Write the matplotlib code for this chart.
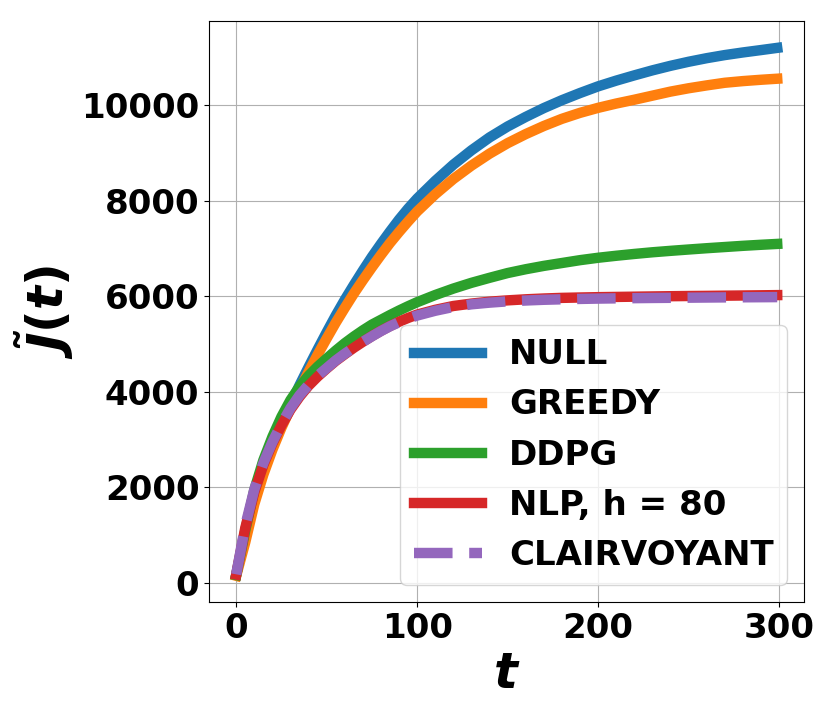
import matplotlib
matplotlib.use("Agg")
import matplotlib.pyplot as plt

# bold text everywhere, bold italic math for the axis labels
plt.rcParams["font.family"] = ["DejaVu Sans"]
plt.rcParams["font.weight"] = "bold"
plt.rcParams["mathtext.fontset"] = "custom"
plt.rcParams["mathtext.it"] = "DejaVu Sans:italic:bold"
plt.rcParams["mathtext.rm"] = "DejaVu Sans:bold"
plt.rcParams["mathtext.bf"] = "DejaVu Sans:bold"

# time steps where the curves were read
t = [0, 5, 10, 15, 20, 25, 30, 35, 40, 45, 50, 55, 60, 65, 70, 75, 80, 85, 90, 95, 100,
     110, 120, 130, 140, 150, 160, 170, 180, 190, 200,
     210, 220, 230, 240, 250, 260, 270, 280, 290, 299]

null_cost = [165, 1000, 1800, 2400, 2900, 3340, 3740, 4140, 4520, 4890, 5250, 5600, 5930,
             6240, 6540, 6830, 7100, 7360, 7610, 7840, 8050,
             8420, 8760, 9060, 9330, 9560, 9760, 9945, 10110, 10260, 10400,
             10520, 10630, 10735, 10830, 10915, 10990, 11055, 11110, 11160, 11206]
greedy_cost = [150, 850, 1650, 2270, 2790, 3250, 3660, 4050, 4420, 4780, 5120, 5450, 5760,
               6060, 6340, 6610, 6870, 7120, 7350, 7570, 7780,
               8140, 8460, 8740, 8990, 9210, 9400, 9570, 9720, 9845, 9950,
               10040, 10120, 10205, 10290, 10360, 10420, 10475, 10510, 10538, 10560]
ddpg_cost = [165, 1100, 1950, 2570, 3060, 3480, 3830, 4110, 4340, 4530, 4700, 4865, 5020,
             5160, 5290, 5410, 5510, 5610, 5705, 5795, 5880,
             6030, 6165, 6285, 6390, 6490, 6570, 6640, 6700, 6760, 6810,
             6852, 6890, 6925, 6955, 6983, 7010, 7035, 7060, 7082, 7100]
nlp_cost = [175, 1150, 1900, 2470, 2920, 3300, 3630, 3900, 4130, 4320, 4490, 4650, 4790,
            4925, 5050, 5170, 5280, 5380, 5470, 5550, 5620,
            5720, 5800, 5850, 5890, 5918, 5940, 5957, 5970, 5978, 5985,
            5990, 5995, 6000, 6005, 6009, 6012, 6016, 6020, 6024, 6028]
clair_cost = [180, 1200, 1960, 2510, 2950, 3330, 3660, 3930, 4150, 4340, 4500, 4660, 4800,
              4930, 5050, 5165, 5275, 5375, 5460, 5535, 5600,
              5700, 5780, 5835, 5870, 5897, 5915, 5930, 5940, 5948, 5955,
              5960, 5964, 5968, 5971, 5974, 5977, 5980, 5982, 5984, 5986]

labels = ["NULL", "GREEDY", "DDPG", "NLP, h = 80", "CLAIRVOYANT"]

fig = plt.figure(figsize=(8.3, 7.16), dpi=100)
ax = fig.add_axes([0.252, 0.159, 0.717, 0.811])

lw = 7.5
ax.plot(t, null_cost, color="C0", lw=lw, label=labels[0])
ax.plot(t, greedy_cost, color="C1", lw=lw, label=labels[1])
ax.plot(t, ddpg_cost, color="C2", lw=lw, label=labels[2])
ax.plot(t, nlp_cost, color="C3", lw=lw, label=labels[3])
ax.plot(t, clair_cost, color="C4", lw=lw, ls="--", label=labels[4])

ax.set_xticks([0, 100, 200, 300])
ax.set_yticks([0, 2000, 4000, 6000, 8000, 10000])
ax.tick_params(labelsize=24.5)
ax.grid(True)

ax.set_xlabel(r"$t$", fontsize=36)
ax.set_ylabel(r"$\tilde{J}(t)$", fontsize=36)

ax.legend(loc="lower right", fontsize=24.5)

fig.savefig("out.png", dpi=100)
